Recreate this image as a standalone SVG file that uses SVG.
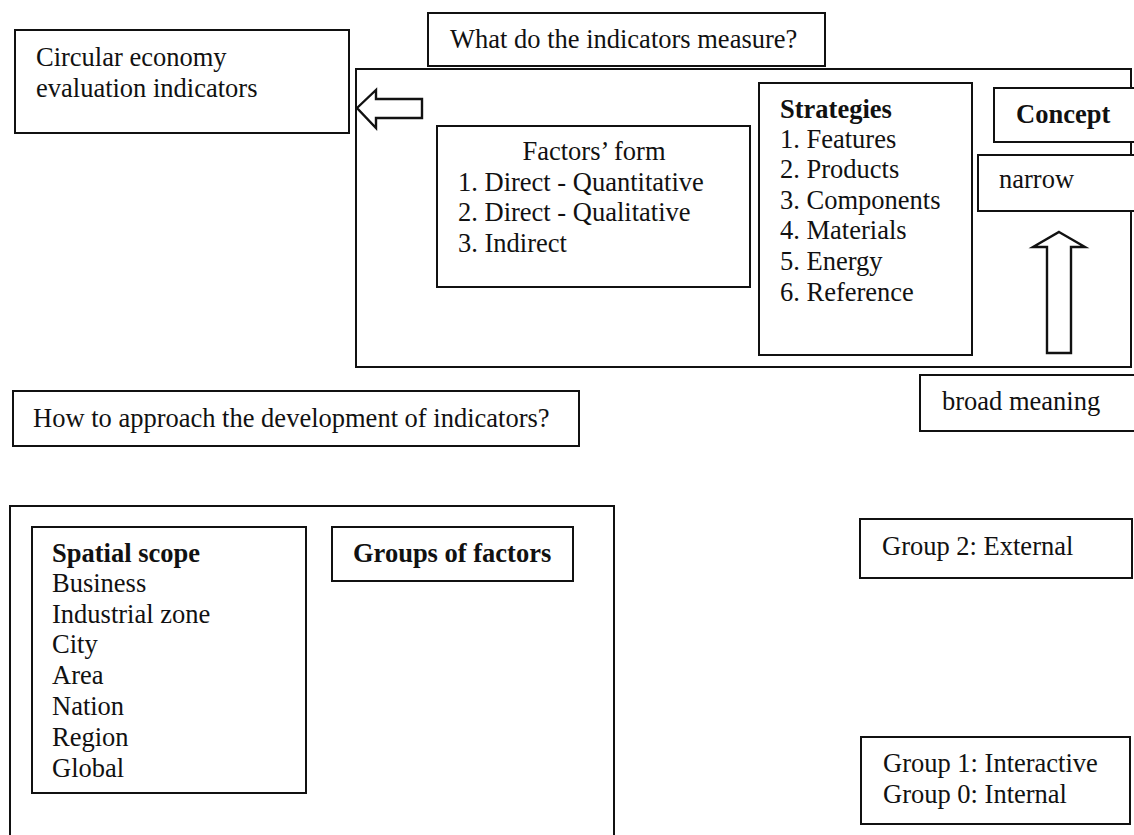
<svg xmlns="http://www.w3.org/2000/svg" width="1134" height="835" viewBox="0 0 1134 835">
  <style>
    .box { fill: #fff; stroke: #111; stroke-width: 2; }
    .arrow { fill: #fff; stroke: #111; stroke-width: 2.4; stroke-linejoin: miter; }
    text { font-family: "Liberation Serif", "Times New Roman", serif; font-size: 26.5px; fill: #111; }
    .b { font-weight: bold; }
  </style>
  <rect width="1134" height="835" fill="#fff"/>

  <!-- top panel: what the indicators measure -->
  <g id="measure-panel">
    <rect class="box" x="356" y="69" width="775" height="298"/>
  </g>

  <g id="title">
    <rect class="box" x="15" y="30" width="334" height="103"/>
    <text x="36" y="66">Circular economy</text>
    <text x="36" y="97">evaluation indicators</text>
  </g>

  <g id="question-measure">
    <rect class="box" x="428" y="13" width="397" height="53"/>
    <text x="450" y="48">What do the indicators measure?</text>
  </g>

  <g id="factors-form">
    <rect class="box" x="437" y="126" width="313" height="161"/>
    <text x="594" y="160" text-anchor="middle">Factors’ form</text>
    <text x="458" y="191">1. Direct - Quantitative</text>
    <text x="458" y="221">2. Direct - Qualitative</text>
    <text x="458" y="252">3. Indirect</text>
  </g>

  <g id="strategies">
    <rect class="box" x="759" y="83" width="213" height="272"/>
    <text class="b" x="780" y="118">Strategies</text>
    <text x="780" y="148">1. Features</text>
    <text x="780" y="178">2. Products</text>
    <text x="780" y="209">3. Components</text>
    <text x="780" y="239">4. Materials</text>
    <text x="780" y="270">5. Energy</text>
    <text x="780" y="301">6. Reference</text>
  </g>

  <g id="concept">
    <rect class="box" x="994" y="88" width="160" height="54"/>
    <text class="b" x="1016" y="123">Concept</text>
  </g>

  <g id="narrow">
    <rect class="box" x="978" y="155" width="180" height="56"/>
    <text x="999" y="188">narrow</text>
  </g>

  <g id="broad">
    <rect class="box" x="920" y="375" width="230" height="56"/>
    <text x="942" y="410">broad meaning</text>
  </g>

  <!-- bottom panel: how to approach development -->
  <g id="question-approach">
    <rect class="box" x="13" y="391" width="566" height="55"/>
    <text x="33" y="427">How to approach the development of indicators?</text>
  </g>

  <g id="approach-panel">
    <rect class="box" x="10" y="506" width="604" height="340"/>
  </g>

  <g id="spatial-scope">
    <rect class="box" x="32" y="527" width="274" height="266"/>
    <text class="b" x="52" y="562">Spatial scope</text>
    <text x="52" y="592">Business</text>
    <text x="52" y="623">Industrial zone</text>
    <text x="52" y="653">City</text>
    <text x="52" y="684">Area</text>
    <text x="52" y="715">Nation</text>
    <text x="52" y="746">Region</text>
    <text x="52" y="777">Global</text>
  </g>

  <g id="groups-of-factors">
    <rect class="box" x="332" y="527" width="241" height="54"/>
    <text class="b" x="353" y="562">Groups of factors</text>
  </g>

  <g id="group-2">
    <rect class="box" x="860" y="519" width="272" height="59"/>
    <text x="882" y="555">Group 2: External</text>
  </g>

  <g id="group-1-0">
    <rect class="box" x="861" y="737" width="269" height="87"/>
    <text x="883" y="772">Group 1: Interactive</text>
    <text x="883" y="803">Group 0: Internal</text>
  </g>

  <!-- block arrows -->
  <g id="connectors">
    <polygon class="arrow" points="357,108 376,90 376,99 422,99 422,118 376,118 376,128"/>
    <polygon class="arrow" points="1059,232 1085,247 1071,247 1071,353 1047,353 1047,247 1033,247"/>
  </g>
</svg>
